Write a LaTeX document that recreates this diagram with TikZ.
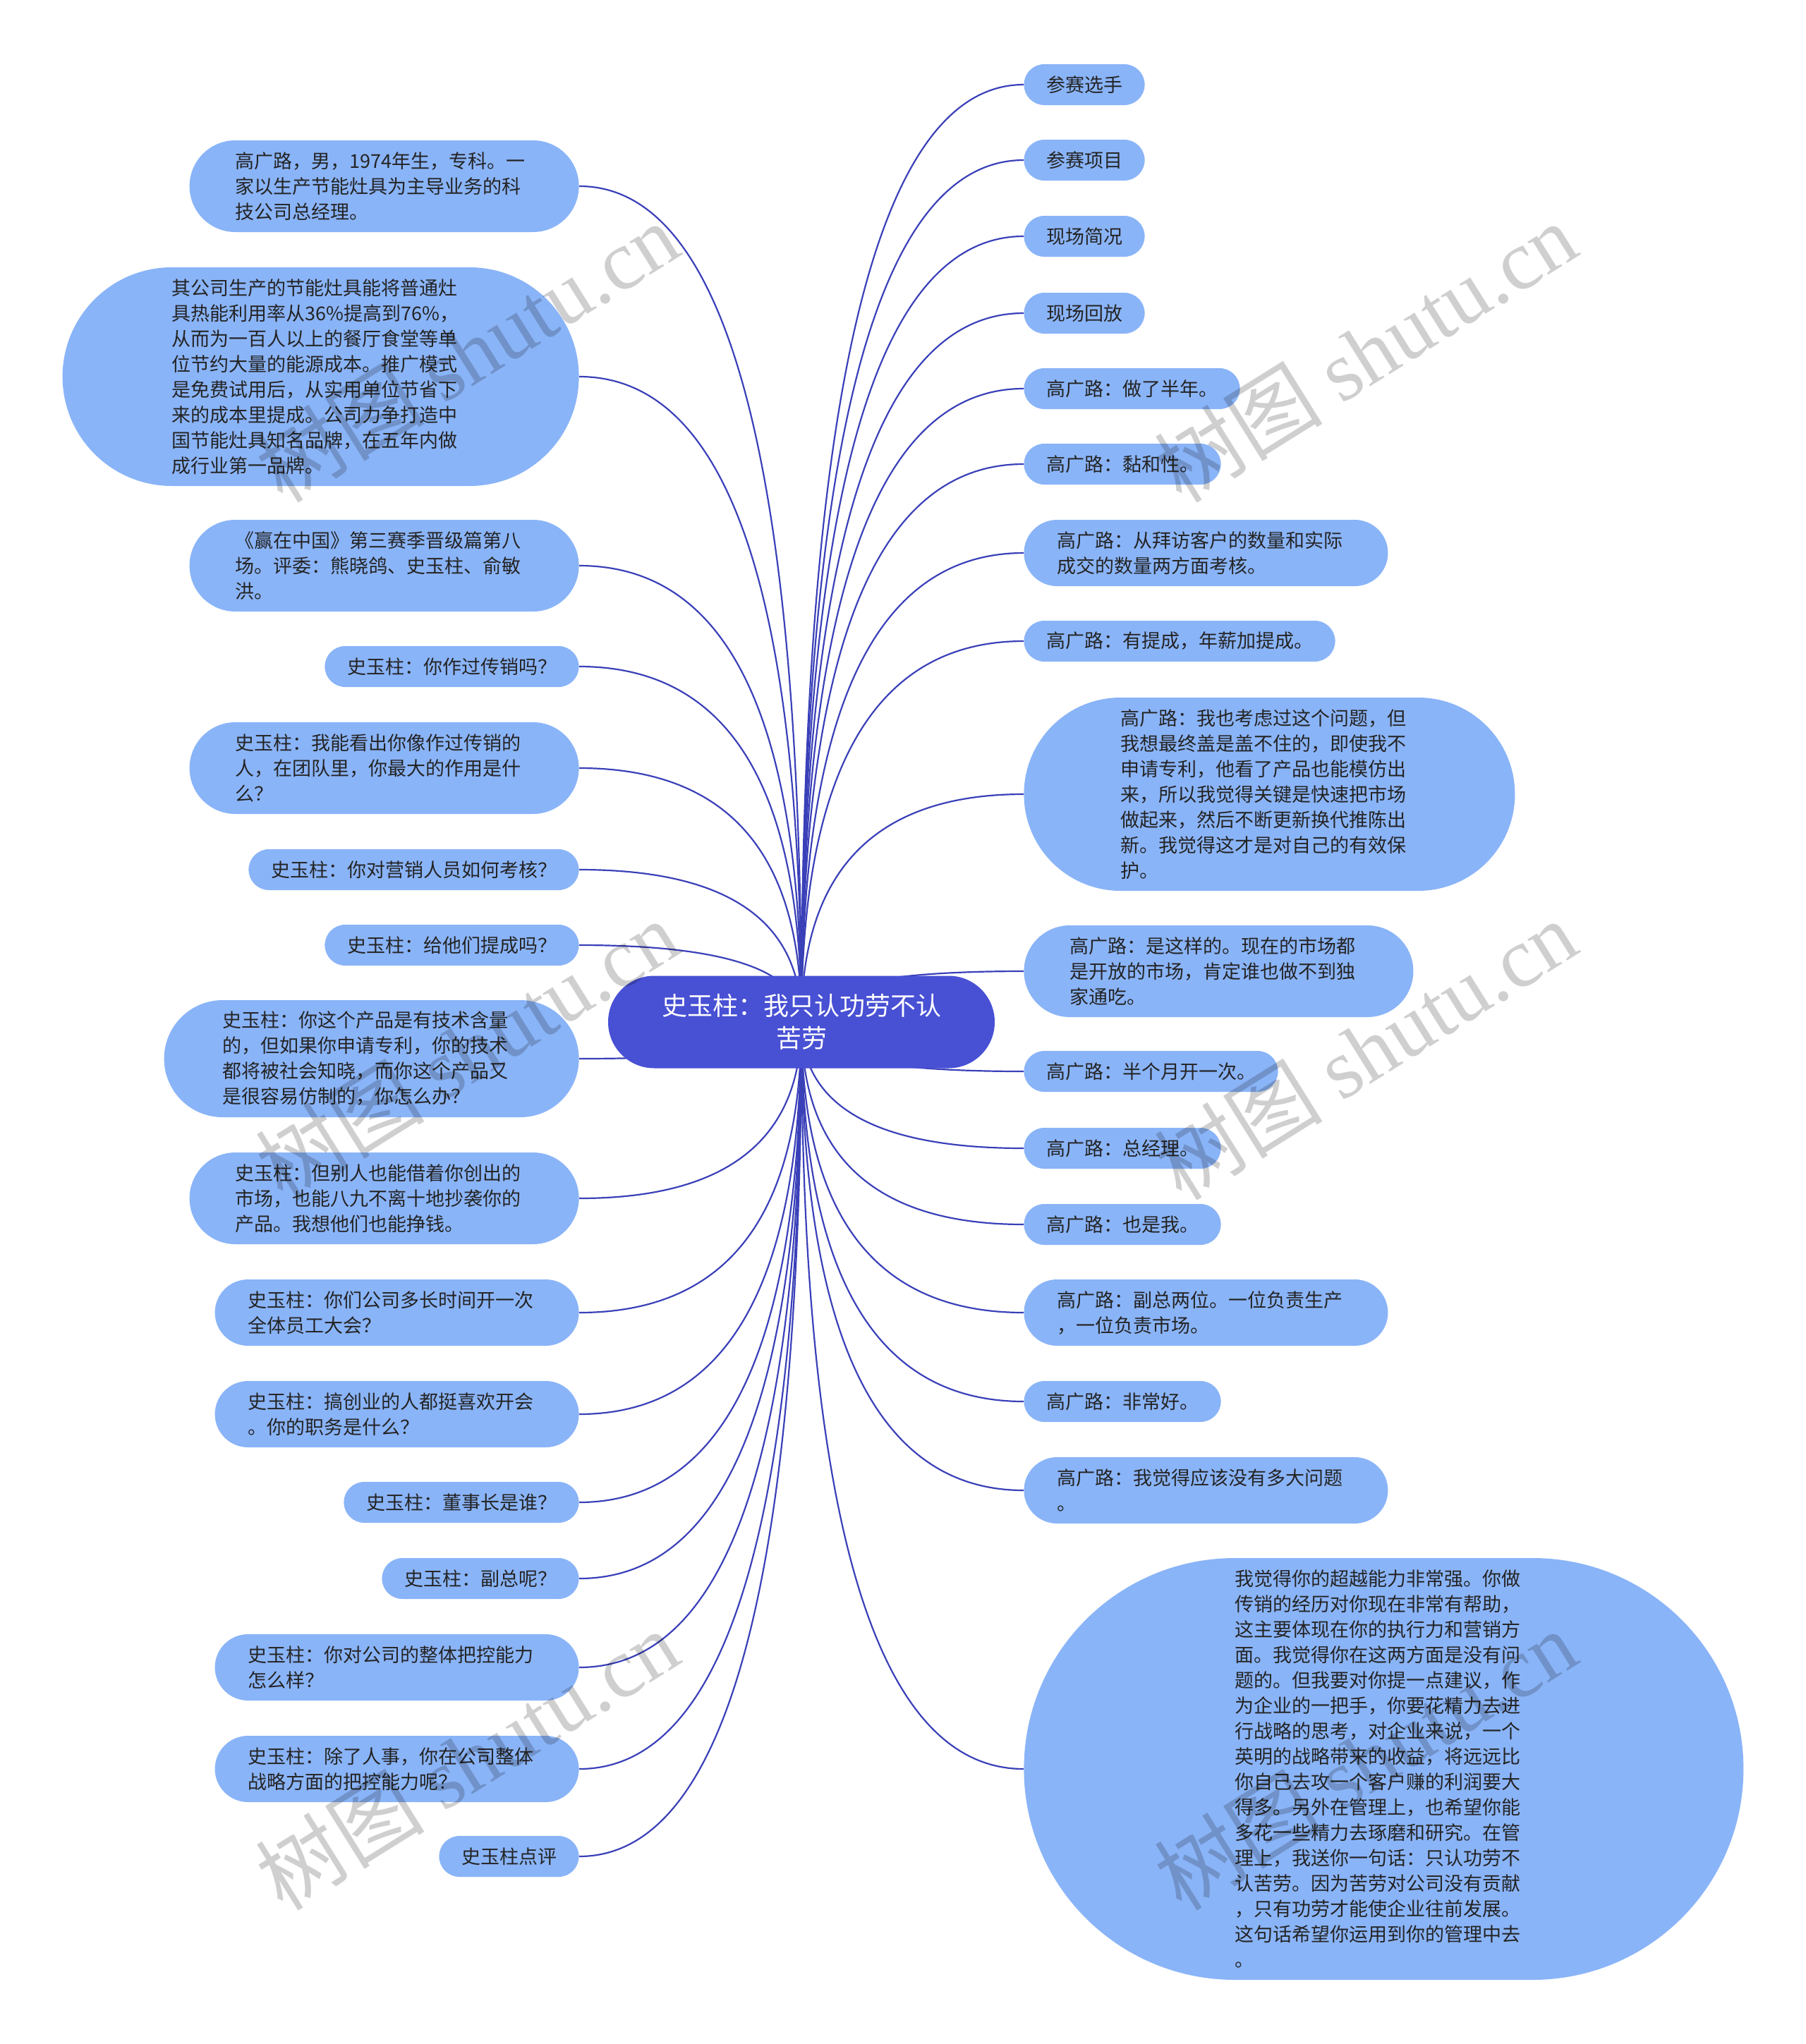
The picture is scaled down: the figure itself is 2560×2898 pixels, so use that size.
\documentclass[tikz,border=0pt]{standalone}
\usepackage{fontspec}
\setmainfont{Noto Sans CJK SC}
\newfontfamily\wmlatin{Liberation Serif}
\usetikzlibrary{calc, backgrounds}
\definecolor{leafblue}{RGB}{138,180,248}
\definecolor{rootblue}{RGB}{72,80,212}
\definecolor{linkblue}{RGB}{58,64,184}
\definecolor{inkgray}{RGB}{36,36,36}
\newcommand{\leaffont}{\fontsize{13.5pt}{18pt}\selectfont}
\newcommand{\rootfont}{\fontsize{18pt}{23pt}\selectfont}

\begin{document}
\begin{tikzpicture}[
  x=0.5pt, y=-0.5pt,
  root/.style={
    rectangle, fill=rootblue, text=white, font=\rootfont, align=center,
    minimum height=65.5pt, inner ysep=0pt, inner xsep=38pt,
    rounded corners=32.7pt
  },
  leaf/.style={
    rectangle, fill=leafblue, text=inkgray, font=\leaffont, align=left,
    inner ysep=0pt, lines=1, inner xsep=15.8pt
  },
  lines/.style={
    minimum height={18pt*(#1-1)+29pt},
    inner xsep={9pt*(#1-1)+14.5pt},
    rounded corners={9pt*(#1-1)+14.49pt}
  },
  para/.style={lines=#1, text width=211pt},
  lleaf/.style={leaf, anchor=east},
  rleaf/.style={leaf, anchor=west},
  link/.style={draw=linkblue, line width=1.1pt},
  wmark/.style={rotate=32, text=black, text opacity=0.19,
    font=\fontsize{60pt}{60pt}\selectfont},
]
\useasboundingbox (0,0) rectangle (2560,2898);

%% Root
\node[root] (root) at (1136,1449) {史玉柱：我只认功劳不认\\苦劳};

%% Left branch
\node[lleaf, para=3]  (l1)  at (821,264)  {高广路，男，1974年生，专科。一\\家以生产节能灶具为主导业务的科\\技公司总经理。};
\node[lleaf, para=8]  (l2)  at (821,534)  {其公司生产的节能灶具能将普通灶\\具热能利用率从36\%提高到76\%，\\从而为一百人以上的餐厅食堂等单\\位节约大量的能源成本。推广模式\\是免费试用后，从实用单位节省下\\来的成本里提成。公司力争打造中\\国节能灶具知名品牌，在五年内做\\成行业第一品牌。};
\node[lleaf, para=3]  (l3)  at (821,802)  {《赢在中国》第三赛季晋级篇第八\\场。评委：熊晓鸽、史玉柱、俞敏\\洪。};
\node[lleaf]          (l4)  at (821,945)  {史玉柱：你作过传销吗？};
\node[lleaf, para=3]  (l5)  at (821,1089) {史玉柱：我能看出你像作过传销的\\人，在团队里，你最大的作用是什\\么？};
\node[lleaf]          (l6)  at (821,1233) {史玉柱：你对营销人员如何考核？};
\node[lleaf]          (l7)  at (821,1340) {史玉柱：给他们提成吗？};
\node[lleaf, para=4]  (l8)  at (821,1501) {史玉柱：你这个产品是有技术含量\\的，但如果你申请专利，你的技术\\都将被社会知晓，而你这个产品又\\是很容易仿制的，你怎么办？};
\node[lleaf, para=3]  (l9)  at (821,1699) {史玉柱：但别人也能借着你创出的\\市场，也能八九不离十地抄袭你的\\产品。我想他们也能挣钱。};
\node[lleaf, para=2]  (l10) at (821,1861) {史玉柱：你们公司多长时间开一次\\全体员工大会？};
\node[lleaf, para=2]  (l11) at (821,2005) {史玉柱：搞创业的人都挺喜欢开会\\。你的职务是什么？};
\node[lleaf]          (l12) at (821,2130) {史玉柱：董事长是谁？};
\node[lleaf]          (l13) at (821,2238) {史玉柱：副总呢？};
\node[lleaf, para=2]  (l14) at (821,2364) {史玉柱：你对公司的整体把控能力\\怎么样？};
\node[lleaf, para=2]  (l15) at (821,2508) {史玉柱：除了人事，你在公司整体\\战略方面的把控能力呢？};
\node[lleaf]          (l16) at (821,2632) {史玉柱点评};

%% Right branch
\node[rleaf]          (r1)  at (1451,120)  {参赛选手};
\node[rleaf]          (r2)  at (1451,227)  {参赛项目};
\node[rleaf]          (r3)  at (1451,335)  {现场简况};
\node[rleaf]          (r4)  at (1451,444)  {现场回放};
\node[rleaf]          (r5)  at (1451,551)  {高广路：做了半年。};
\node[rleaf]          (r6)  at (1451,658)  {高广路：黏和性。};
\node[rleaf, para=2]  (r7)  at (1451,784)  {高广路：从拜访客户的数量和实际\\成交的数量两方面考核。};
\node[rleaf]          (r8)  at (1451,909)  {高广路：有提成，年薪加提成。};
\node[rleaf, para=7]  (r9)  at (1451,1126) {高广路：我也考虑过这个问题，但\\我想最终盖是盖不住的，即使我不\\申请专利，他看了产品也能模仿出\\来，所以我觉得关键是快速把市场\\做起来，然后不断更新换代推陈出\\新。我觉得这才是对自己的有效保\\护。};
\node[rleaf, para=3]  (r10) at (1451,1377) {高广路：是这样的。现在的市场都\\是开放的市场，肯定谁也做不到独\\家通吃。};
\node[rleaf]          (r11) at (1451,1519) {高广路：半个月开一次。};
\node[rleaf]          (r12) at (1451,1628) {高广路：总经理。};
\node[rleaf]          (r13) at (1451,1736) {高广路：也是我。};
\node[rleaf, para=2]  (r14) at (1451,1861) {高广路：副总两位。一位负责生产\\，一位负责市场。};
\node[rleaf]          (r15) at (1451,1987) {高广路：非常好。};
\node[rleaf, para=2]  (r16) at (1451,2113) {高广路：我觉得应该没有多大问题\\。};
\node[rleaf, para=16] (r17) at (1451,2508) {我觉得你的超越能力非常强。你做\\传销的经历对你现在非常有帮助，\\这主要体现在你的执行力和营销方\\面。我觉得你在这两方面是没有问\\题的。但我要对你提一点建议，作\\为企业的一把手，你要花精力去进\\行战略的思考，对企业来说，一个\\英明的战略带来的收益，将远远比\\你自己去攻一个客户赚的利润要大\\得多。另外在管理上，也希望你能\\多花一些精力去琢磨和研究。在管\\理上，我送你一句话：只认功劳不\\认苦劳。因为苦劳对公司没有贡献\\，只有功劳才能使企业往前发展。\\这句话希望你运用到你的管理中去\\。};

%% Links
\begin{scope}[on background layer]
  \foreach \i in {1,...,16}
    \draw[link] (root.center)
      .. controls ($(root.center)!2/3!(root.center |- l\i.east)$)
      and ($(l\i.east)!2/3!(root.center |- l\i.east)$) .. (l\i.east);
  \foreach \i in {1,...,17}
    \draw[link] (root.center)
      .. controls ($(root.center)!2/3!(root.center |- r\i.west)$)
      and ($(r\i.west)!2/3!(root.center |- r\i.west)$) .. (r\i.west);
\end{scope}

%% Watermarks
\node[wmark] (wm1) at (662,499)   {树图 {\wmlatin shutu.cn}};
\node[wmark] (wm2) at (1935,499)  {树图 {\wmlatin shutu.cn}};
\node[wmark] (wm3) at (662,1488)  {树图 {\wmlatin shutu.cn}};
\node[wmark] (wm4) at (1935,1488) {树图 {\wmlatin shutu.cn}};
\node[wmark] (wm5) at (662,2495)  {树图 {\wmlatin shutu.cn}};
\node[wmark] (wm6) at (1935,2495) {树图 {\wmlatin shutu.cn}};

\end{tikzpicture}
\end{document}
